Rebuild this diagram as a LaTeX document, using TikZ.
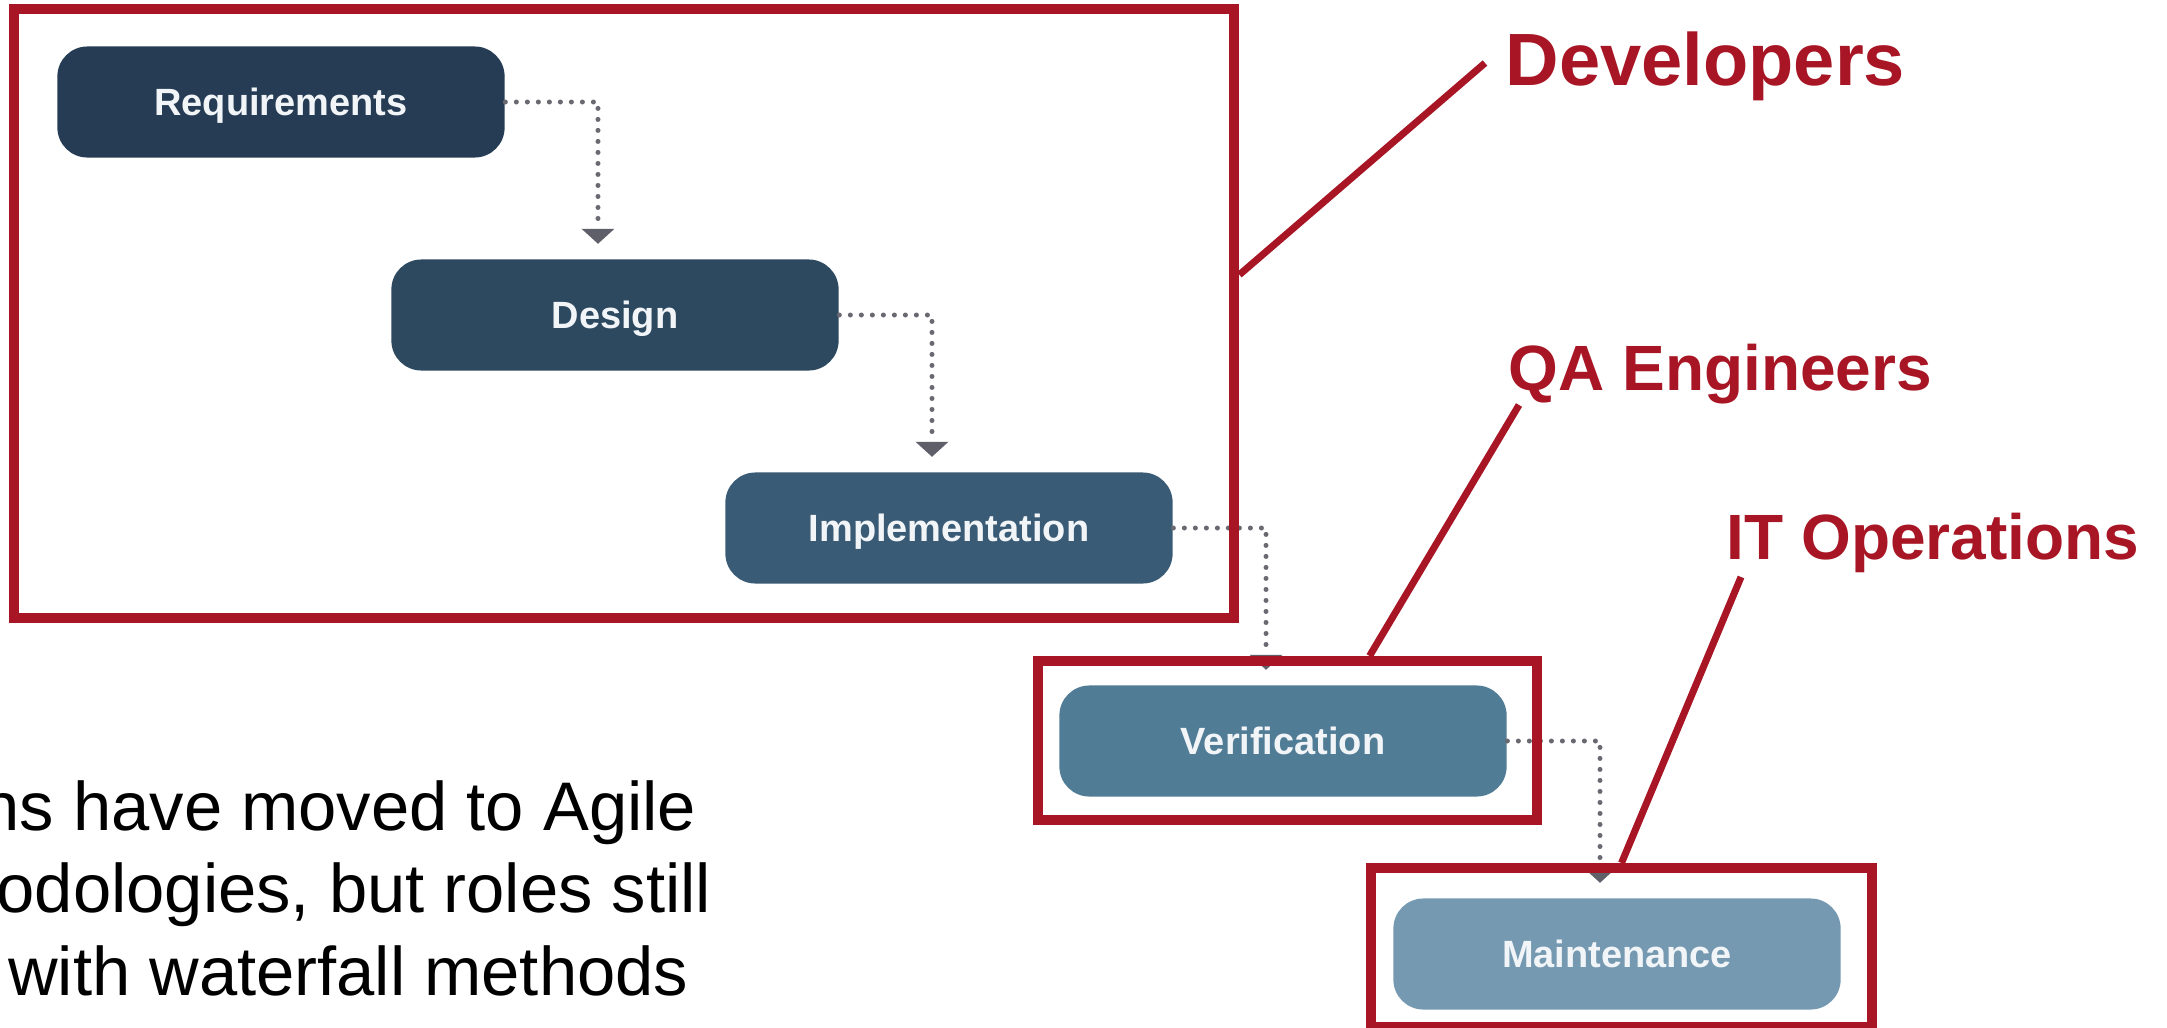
\documentclass[tikz,border=0pt]{standalone}
\usepackage{fontspec}
\setmainfont{Liberation Sans}
\usetikzlibrary{arrows.meta}
\definecolor{cReq}{RGB}{37,60,84}
\definecolor{cDes}{RGB}{45,73,96}
\definecolor{cImp}{RGB}{58,91,117}
\definecolor{cVer}{RGB}{81,124,150}
\definecolor{cMai}{RGB}{116,153,177}
\definecolor{cRed}{RGB}{168,22,37}
\definecolor{cDot}{RGB}{105,105,114}
\definecolor{cHead}{RGB}{95,95,105}
\definecolor{cBoxText}{RGB}{242,245,248}
\tikzset{
  phase/.style={rectangle, rounded corners=0.3cm, minimum width=4.47cm, minimum height=1.11cm,
    text=cBoxText, font=\fontsize{10.8}{13}\selectfont\bfseries, inner sep=0pt,
    text height=7.73pt, text depth=0pt},
  flow/.style={draw=cDot, line width=0.05cm, line cap=round, dash pattern=on 0pt off 3.13pt,
    -{Triangle[width=0.33cm,length=0.15cm,color=cHead,fill=cHead,line width=0pt]}},
  redbox/.style={draw=cRed, line width=0.1cm, rectangle, inner sep=0pt},
  callout/.style={draw=cRed, line width=0.07cm},
  calltext/.style={text=cRed, font=\bfseries, inner sep=0pt, anchor=base west},
  bodytext/.style={text=black, font=\fontsize{19.55}{23}\selectfont, inner sep=0pt, anchor=base east}
}
\begin{document}
\begin{tikzpicture}[x=0.01cm, y=-0.01cm]
\useasboundingbox (0,0) rectangle (2167,1027);
\fill[white] (0,0) rectangle (2167,1027);
% phases
\node[phase, fill=cReq] (req) at (281,102) {Requirements};
\node[phase, fill=cDes] (des) at (615,315) {Design};
\node[phase, fill=cImp] (imp) at (949,528) {Implementation};
\node[phase, fill=cVer] (ver) at (1283,741) {Verification};
\node[phase, fill=cMai] (mai) at (1617,954) {Maintenance};
% connectors
\draw[flow] (req.east) -| ([xshift=-0.17cm,yshift=0.15cm]des.north);
\draw[flow] (des.east) -| ([xshift=-0.17cm,yshift=0.15cm]imp.north);
\draw[flow] (imp.east) -| ([xshift=-0.17cm,yshift=0.15cm]ver.north);
\draw[flow] (ver.east) -| ([xshift=-0.17cm,yshift=0.15cm]mai.north);
% red annotation boxes
\node[redbox, minimum width=12.195cm, minimum height=6.085cm] (devbox) at (624.25,313.75) {};
\node[redbox, minimum width=4.99cm, minimum height=1.59cm] (qabox) at (1287.5,740.5) {};
\node[redbox, minimum width=5.01cm, minimum height=1.59cm] (itbox) at (1621.5,947.5) {};
% labels
\node[calltext, font=\fontsize{21.06}{25}\selectfont\bfseries] (devlbl) at (1505,85) {Developers};
\node[calltext, font=\fontsize{18.2}{22}\selectfont\bfseries] (qalbl) at (1508,390) {QA Engineers};
\node[calltext, font=\fontsize{18.2}{22}\selectfont\bfseries] (itlbl) at (1726,559) {IT Operations};
\coordinate (devtip) at (1485,63);
\coordinate (qatip) at (1519,405);
\coordinate (ittip) at (1741,577);
\draw[callout] ([yshift=0.39cm]devbox.east) -- (devtip);
\draw[callout] ([xshift=0.82cm]qabox.north) -- (qatip);
\draw[callout] (itbox.north) -- (ittip);
% bottom text
\node[bodytext] (t1) at (697,830) {ns have moved to Agile};
\node[bodytext] (t2) at (712,912) {odologies, but roles still};
\node[bodytext] (t3) at (689,995) {with waterfall methods};
\end{tikzpicture}
\end{document}
